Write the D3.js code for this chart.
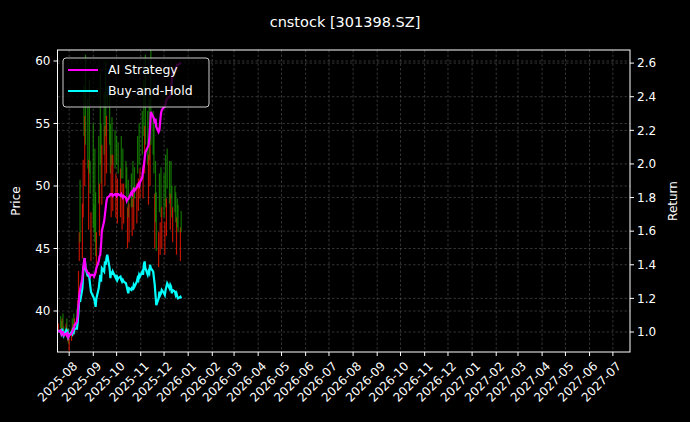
<!DOCTYPE html>
<html><head><meta charset="utf-8">
<script src="https://cdn.jsdelivr.net/npm/d3@7"></script>
<style>body{margin:0;background:#000}svg{display:block}text{font-family:"DejaVu Sans",sans-serif}</style>
</head><body><svg id="c" width="690" height="422"></svg>
<script>
const title = "cnstock [301398.SZ]";
const startDate = "2025-07-18";
const openP = [38.4,39.6,39.2,38.0,39.8,38.8,38.2,39.4,37.6,
38.6,36.8,37.6,39.4,38.0,39.8,38.2,40.2,
39.0,41.0,44.0,50.5,44.2,47.5,58.0,
50.0,60.5,57.0,46.5,58.5,52.0,44.0,55.0,48.5,53.0,
49.5,43.0,54.0,46.0,59.0,55.0,48.5,57.5,50.0,60.0,51.0,58.0,
57.5,55.0,47.5,55.5,48.0,54.5,47.5,54.0,47.0,53.5,
47.5,54.0,46.5,53.0,47.0,52.0,51.5,45.0,50.5,45.5,
51.0,46.0,52.0,46.5,51.5,47.0,54.0,48.0,55.0,49.0,
56.0,49.0,58.5,51.0,60.5,56.0,48.5,57.0,50.0,61.0,
56.0,55.0,45.0,52.0,49.5,43.5,51.0,44.5,51.5,45.0,
51.0,44.5,52.5,46.0,53.0,52.0,46.5,52.0,50.0,45.5,
50.0,49.5,44.5,49.0,48.5,44.0,48.0];
const closeP = [39.0,38.6,38.2,39.4,38.6,37.8,39.0,38.2,38.6,
37.4,37.8,38.6,38.2,39.0,38.6,39.4,39.4,
40.9,43.2,46.3,45.5,48.6,52.1,54.0,
55.6,53.3,51.4,52.1,51.0,49.4,47.9,46.7,46.3,45.5,
44.4,46.3,48.6,50.2,51.7,50.2,53.3,52.5,54.8,54.0,55.6,56.4,
53.3,51.0,52.5,51.7,52.5,51.4,51.0,51.7,50.6,51.0,
51.4,50.6,50.2,50.6,50.2,49.8,49.0,48.3,47.5,48.6,
48.3,49.0,48.3,49.4,49.0,50.2,51.0,50.6,51.7,51.4,
52.5,51.7,54.0,54.8,53.3,51.7,52.5,52.1,54.0,53.3,
52.5,51.0,49.4,47.1,44.8,46.3,47.9,47.1,47.5,48.3,
47.5,47.1,48.3,49.0,49.8,48.6,49.4,49.0,47.5,48.3,
47.9,47.1,47.5,46.7,46.3,46.7,46.3];
const strategyRet = [1.00,1.01,0.99,1.00,1.00,0.98,0.99,0.98,0.99,
0.97,0.98,0.99,1.00,1.01,1.02,1.04,1.06,
1.10,1.16,1.22,1.25,1.32,1.38,1.42,
1.44,1.38,1.35,1.35,1.34,1.33,1.34,1.34,1.33,1.34,
1.36,1.38,1.42,1.45,1.46,1.52,1.60,1.66,1.70,1.74,1.78,1.80,
1.81,1.82,1.82,1.82,1.81,1.82,1.82,1.81,1.82,1.82,
1.81,1.82,1.81,1.80,1.81,1.80,1.78,1.79,1.79,1.80,
1.83,1.82,1.84,1.85,1.84,1.86,1.87,1.88,1.87,1.89,
1.92,1.96,1.99,2.03,2.07,2.10,2.11,2.15,2.22,2.31,
2.28,2.27,2.24,2.27,2.22,2.19,2.20,2.25,2.30,2.32,
2.34,2.34,2.36,2.38,2.39,2.40,2.41,2.45,2.50,2.54,
2.56,2.57,2.58,2.59,2.59,2.60,2.60];
const holdRet = [1.01,1.00,0.99,1.02,1.00,0.98,1.01,0.99,1.00,
0.97,0.98,1.00,0.99,1.01,1.00,1.02,1.02,
1.06,1.12,1.20,1.18,1.26,1.35,1.40,
1.44,1.38,1.33,1.35,1.32,1.28,1.24,1.21,1.20,1.18,
1.15,1.20,1.26,1.30,1.34,1.30,1.38,1.36,1.42,1.40,1.44,1.46,
1.38,1.32,1.36,1.34,1.36,1.33,1.32,1.34,1.31,1.32,
1.33,1.31,1.30,1.31,1.30,1.29,1.27,1.25,1.23,1.26,
1.25,1.27,1.25,1.28,1.27,1.30,1.32,1.31,1.34,1.33,
1.36,1.34,1.40,1.42,1.38,1.34,1.36,1.35,1.40,1.38,
1.36,1.32,1.28,1.22,1.16,1.20,1.24,1.22,1.23,1.25,
1.23,1.22,1.25,1.27,1.29,1.26,1.28,1.27,1.23,1.25,
1.24,1.22,1.23,1.21,1.20,1.21,1.20];
const priceTicks = [40,45,50,55,60];
const retTicks = [1.0,1.2,1.4,1.6,1.8,2.0,2.2,2.4,2.6];
const xDomain = ["2025-07-17","2027-07-23"];

const svg = d3.select("#c");
const L=57.5,R=630,T=50,B=352;
const parse=d3.utcParse("%Y-%m-%d");
const dates=[]; let d=parse(startDate);
while(dates.length<closeP.length){const w=d.getUTCDay(); if(w!==0&&w!==6) dates.push(d); d=d3.utcDay.offset(d,1);}
const x=d3.scaleUtc().domain(xDomain.map(parse)).range([L,R]);
const yP=d3.scaleLinear().domain([36.72,60.88]).range([B,T]);
const yR=d3.scaleLinear().domain([0.881,2.678]).range([B,T]);
svg.append("rect").attr("width",690).attr("height",422).attr("fill","#000");
svg.append("defs").append("clipPath").attr("id","clip").append("rect").attr("x",L).attr("y",T).attr("width",R-L).attr("height",B-T);
const months=d3.utcMonth.range(parse("2025-08-01"),parse("2027-07-02"));
const g=svg.append("g");
const gridStyle=s=>s.attr("stroke","#555").attr("stroke-width",0.6).attr("stroke-dasharray","2.5,2");
months.forEach(m=>gridStyle(g.append("line").attr("x1",x(m)).attr("x2",x(m)).attr("y1",T).attr("y2",B)));
priceTicks.forEach(v=>gridStyle(g.append("line").attr("x1",L).attr("x2",R).attr("y1",yP(v)).attr("y2",yP(v))));
retTicks.forEach(v=>gridStyle(g.append("line").attr("x1",L).attr("x2",R).attr("y1",yR(v)).attr("y2",yR(v))));
const pg=svg.append("g").attr("clip-path","url(#clip)");
dates.forEach((dt,i)=>{
  const o=openP[i],c=closeP[i];
  pg.append("rect").attr("x",x(dt)-0.6).attr("width",1.2)
    .attr("y",yP(Math.max(o,c))).attr("height",Math.max(0.8,Math.abs(yP(o)-yP(c))))
    .attr("fill",c>=o?"#ff1a00":"#1a9a00").attr("opacity",0.75);
});
const line=(arr)=>d3.line().x((v,i)=>x(dates[i])).y(v=>yR(v))(arr);
pg.append("path").attr("d",line(holdRet)).attr("fill","none").attr("stroke","#00ffff").attr("stroke-width",2.2);
pg.append("path").attr("d",line(strategyRet)).attr("fill","none").attr("stroke","#ff00ff").attr("stroke-width",2.2);
svg.append("rect").attr("x",L).attr("y",T).attr("width",R-L).attr("height",B-T).attr("fill","none").attr("stroke","#fff").attr("stroke-width",1);
const col="#fff";
months.forEach(m=>{
  svg.append("line").attr("x1",x(m)).attr("x2",x(m)).attr("y1",B).attr("y2",B+4).attr("stroke",col);
  svg.append("text").attr("transform",`translate(${x(m)+3},${B+9}) rotate(-45)`).attr("text-anchor","end").attr("dy","0.7em")
   .attr("fill",col).attr("font-size",12).text(d3.utcFormat("%Y-%m")(m));
});
priceTicks.forEach(v=>{
  svg.append("line").attr("x1",L-4).attr("x2",L).attr("y1",yP(v)).attr("y2",yP(v)).attr("stroke",col);
  svg.append("text").attr("x",L-7).attr("y",yP(v)).attr("dy","0.35em").attr("text-anchor","end").attr("fill",col).attr("font-size",12).text(v);
});
retTicks.forEach(v=>{
  svg.append("line").attr("x1",R).attr("x2",R+4).attr("y1",yR(v)).attr("y2",yR(v)).attr("stroke",col);
  svg.append("text").attr("x",R+7).attr("y",yR(v)).attr("dy","0.35em").attr("fill",col).attr("font-size",12).text(v.toFixed(1));
});
svg.append("text").attr("transform",`translate(20,${(T+B)/2}) rotate(-90)`).attr("text-anchor","middle").attr("fill",col).attr("font-size",12).text("Price");
svg.append("text").attr("transform",`translate(677,${(T+B)/2}) rotate(-90)`).attr("text-anchor","middle").attr("fill",col).attr("font-size",12).text("Return");
svg.append("text").attr("x",345).attr("y",27).attr("text-anchor","middle").attr("fill",col).attr("font-size",14.5).text(title);
const lg=svg.append("g");
lg.append("rect").attr("x",63).attr("y",58).attr("width",146).attr("height",49).attr("rx",3).attr("fill","#000").attr("fill-opacity",0.8).attr("stroke","#ccc");
[["AI Strategy","#ff00ff"],["Buy-and-Hold","#00ffff"]].forEach(([t,c],i)=>{
  const yy=70+i*21;
  lg.append("line").attr("x1",68).attr("x2",98).attr("y1",yy).attr("y2",yy).attr("stroke",c).attr("stroke-width",2);
  lg.append("text").attr("x",108).attr("y",yy).attr("dy","0.35em").attr("fill",col).attr("font-size",12.5).text(t);
});
</script></body></html>
